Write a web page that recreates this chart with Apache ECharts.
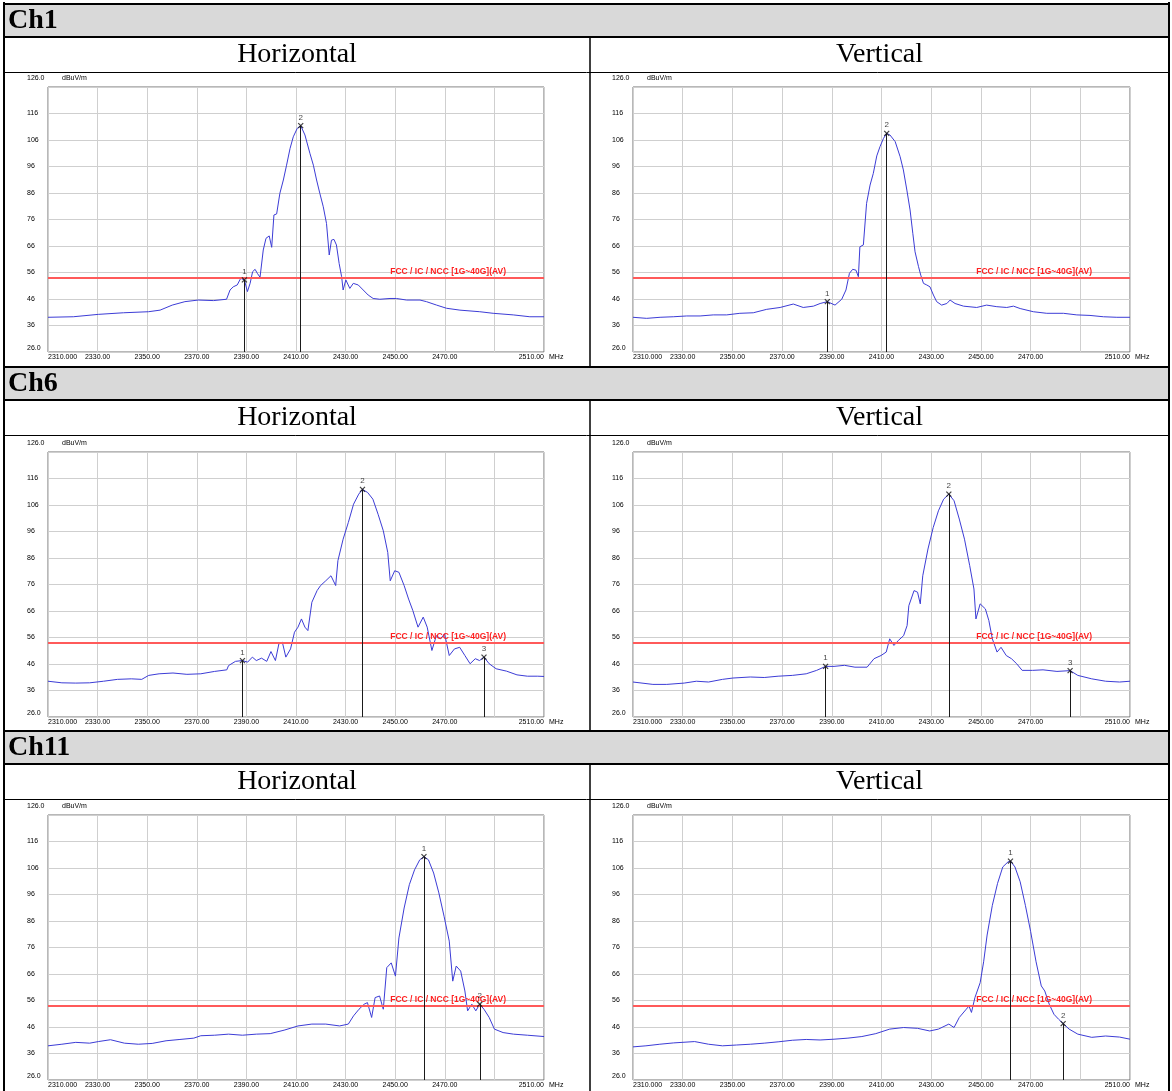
<!DOCTYPE html>
<html>
<head>
<meta charset="utf-8">
<script src="https://cdn.jsdelivr.net/npm/echarts@6/dist/echarts.min.js"></script>
<style>
  html, body { margin: 0; padding: 0; background: #fff; }
  #chart { width: 1172px; height: 1091px; }
</style>
</head>
<body>
<div id="chart"></div>
<script>
// axis ranges / limit
const FREQ_MIN = 2310;
const FREQ_MAX = 2510;
const LEVEL_MIN = 26;
const LEVEL_MAX = 126;
const LIMIT_AV = 54;
const LIMIT_NAME = 'FCC / IC / NCC [1G~40G](AV)';

const xGridValues = [2310, 2330, 2350, 2370, 2390, 2410, 2430, 2450, 2470, 2490, 2510];
const xLabelValues = [2310, 2330, 2350, 2370, 2390, 2410, 2430, 2450, 2470, 2510];
const xLabelTexts = ['2310.000', '2330.00', '2350.00', '2370.00', '2390.00', '2410.00', '2430.00', '2450.00', '2470.00', '2510.00'];
const yGridValues = [26, 36, 46, 56, 66, 76, 86, 96, 106, 116, 126];
const yLabelValues = [26, 36, 46, 56, 66, 76, 86, 96, 106, 116];
const yLabelTexts = ['26.0', '36', '46', '56', '66', '76', '86', '96', '106', '116'];
const yTopText = '126.0';
const levelUnit = 'dBuV/m';
const freqUnit = 'MHz';

const channels = ['Ch1', 'Ch6', 'Ch11'];
const polarizations = ['Horizontal', 'Vertical'];

// traces [MHz, dBuV/m]
const ch1Horizontal = [[2310,39.1],[2320.2,39.3],[2330.3,40.2],[2340.4,40.8],[2350.5,41.2],[2355.2,41.8],[2360.1,43.7],[2365.2,45.0],[2370.6,45.6],[2376.7,45.4],[2382.0,45.9],[2383.4,49.4],[2384.7,50.6],[2386.3,51.3],[2387.7,53.8],[2389.2,53.2],[2390.4,48.8],[2391.5,51.9],[2392.5,56.3],[2393.5,57.2],[2394.4,55.7],[2395.5,54.2],[2396.8,64.5],[2397.9,68.9],[2399.2,69.8],[2400.2,65.5],[2401.1,77.7],[2402.2,78.1],[2403.5,85.9],[2404.9,90.9],[2406.2,96.5],[2407.6,102.8],[2408.9,107.2],[2410.5,110.4],[2411.9,111.4],[2413.6,107.9],[2415.6,101.0],[2417.0,96.5],[2418.3,90.9],[2419.6,85.9],[2421.0,80.8],[2422.3,74.5],[2423.4,62.6],[2424.3,68.2],[2425.3,68.5],[2426.3,66.4],[2427.4,59.4],[2428.4,54.4],[2429.0,49.4],[2430.1,53.2],[2431.7,50.0],[2433.1,51.9],[2435.1,51.3],[2437.1,49.4],[2439.1,47.5],[2441.1,46.2],[2443.8,45.9],[2447.9,46.2],[2450.5,46.2],[2454.6,45.6],[2460.0,45.6],[2462.6,45.0],[2466.7,43.7],[2470.7,42.5],[2476.1,41.8],[2484.1,41.2],[2489.5,40.6],[2497.6,40.0],[2504.3,39.3],[2510,39.3]];
const ch1Vertical = [[2310,39.1],[2315.5,38.7],[2320.9,39.1],[2326.2,39.3],[2331.6,39.6],[2337.0,39.6],[2342.3,40.0],[2347.7,40.0],[2353.0,40.6],[2358.4,40.8],[2363.8,42.1],[2369.2,42.8],[2374.5,44.1],[2378.5,42.8],[2382.6,43.3],[2385.3,44.3],[2388.2,45.0],[2391.3,43.7],[2394.0,45.9],[2395.7,49.4],[2397.1,55.7],[2398.4,57.2],[2399.7,56.9],[2400.7,54.4],[2401.3,65.7],[2402.7,66.4],[2404.0,82.1],[2405.4,89.0],[2406.7,93.4],[2408.1,100.0],[2409.4,103.5],[2410.8,106.6],[2412.1,108.5],[2413.4,107.9],[2415.5,105.4],[2417.5,99.7],[2418.8,94.7],[2420.2,87.1],[2421.5,79.6],[2422.6,70.8],[2423.5,63.8],[2424.9,58.2],[2425.8,55.0],[2426.9,51.9],[2428.2,51.3],[2429.5,50.6],[2430.9,47.5],[2432.2,45.0],[2434.2,43.7],[2436.3,44.3],[2437.6,45.6],[2439.6,44.3],[2443.0,43.3],[2448.3,42.8],[2452.3,43.7],[2456.4,43.1],[2460.4,42.8],[2463.1,43.3],[2465.8,42.4],[2471.1,41.2],[2476.5,40.6],[2483.2,40.6],[2488.6,40.0],[2493.9,39.8],[2499.3,39.3],[2504.7,39.1],[2510,39.1]];
const ch6Horizontal = [[2310,39.5],[2315.6,38.9],[2321.2,38.8],[2326.8,38.9],[2332.4,39.5],[2338.0,40.2],[2343.6,40.4],[2347.8,40.2],[2350.6,41.7],[2354.8,42.3],[2360.4,42.6],[2366.0,42.1],[2371.6,42.3],[2377.2,43.2],[2382.1,43.8],[2382.8,45.4],[2385.6,47.0],[2388.4,47.3],[2390.5,46.7],[2392.4,48.6],[2394.0,47.3],[2396.1,48.2],[2398.2,47.0],[2399.9,50.7],[2401.7,47.3],[2403.1,53.6],[2404.5,54.2],[2405.9,48.6],[2407.8,51.7],[2409.4,58.0],[2410.8,59.9],[2412.2,63.0],[2413.6,59.9],[2414.8,58.6],[2416.4,69.3],[2418.5,73.7],[2419.9,75.6],[2422.0,77.4],[2424.1,79.3],[2426.0,75.6],[2426.9,85.0],[2429.0,93.1],[2431.1,99.4],[2433.2,106.3],[2435.3,110.1],[2436.8,111.9],[2438.9,110.7],[2441.0,108.2],[2443.1,102.5],[2445.2,96.3],[2447.0,88.1],[2448.0,77.4],[2449.8,81.2],[2451.5,80.6],[2453.6,75.6],[2455.4,70.5],[2457.1,66.2],[2459.2,59.9],[2461.3,63.7],[2462.9,59.9],[2464.8,51.1],[2466.6,56.7],[2468.3,55.5],[2469.9,57.4],[2471.8,49.2],[2473.9,51.7],[2476.0,52.3],[2478.1,49.2],[2480.2,46.1],[2482.3,48.0],[2484.0,47.3],[2485.8,48.6],[2487.9,46.1],[2490.7,44.2],[2494.9,43.3],[2499.1,41.9],[2503.3,41.4],[2507.5,41.4],[2510,41.3]];
const ch6Vertical = [[2310,39.2],[2318.0,38.3],[2323.6,38.3],[2330.6,38.8],[2335.5,39.5],[2340.4,39.2],[2346.0,40.2],[2350.2,40.7],[2357.2,41.1],[2362.8,40.9],[2368.4,41.4],[2374.1,41.7],[2379.7,42.3],[2383.9,43.6],[2387.5,45.1],[2390.9,45.1],[2395.1,45.5],[2399.3,44.8],[2404.2,44.8],[2407.0,48.0],[2409.8,49.2],[2411.9,50.5],[2413.3,55.5],[2415.0,53.0],[2416.8,54.9],[2418.9,56.7],[2420.3,60.5],[2421.0,68.0],[2423.1,73.7],[2424.5,73.1],[2425.6,68.7],[2426.6,79.3],[2428.7,89.4],[2430.8,97.5],[2432.9,103.8],[2435.0,108.2],[2437.1,110.1],[2439.2,107.6],[2441.3,100.7],[2443.4,93.1],[2445.5,83.1],[2447.2,74.3],[2448.0,63.0],[2449.7,68.7],[2451.8,66.8],[2453.2,62.4],[2454.6,55.5],[2456.5,50.5],[2458.1,52.3],[2460.2,49.2],[2462.3,48.0],[2464.4,46.1],[2466.6,43.6],[2470.8,43.6],[2475.0,43.8],[2480.6,43.2],[2485.9,43.5],[2489.0,41.7],[2494.6,40.4],[2500.2,39.5],[2505.8,39.2],[2510,39.5]];
const ch11Horizontal = [[2310,38.9],[2315.6,39.5],[2321.2,40.2],[2326.8,39.9],[2330.3,40.5],[2335.2,41.2],[2340.8,39.9],[2346.4,39.5],[2352.0,39.8],[2357.6,40.8],[2363.2,41.3],[2368.8,41.8],[2371.6,42.7],[2377.2,42.9],[2382.8,43.3],[2388.4,42.9],[2394.0,43.3],[2399.6,43.5],[2405.2,44.8],[2410.8,46.4],[2416.4,47.1],[2422.0,47.1],[2427.6,46.4],[2431.1,47.1],[2433.2,50.2],[2435.4,52.7],[2437.5,54.6],[2438.8,55.2],[2440.5,49.6],[2441.9,57.1],[2443.7,57.7],[2445.2,52.7],[2446.6,68.4],[2448.4,70.2],[2450.1,65.2],[2451.5,79.6],[2453.6,90.9],[2455.7,99.7],[2457.8,105.3],[2459.9,109.1],[2461.6,110.3],[2463.4,109.1],[2465.5,104.1],[2467.6,96.6],[2469.7,87.8],[2471.8,78.4],[2473.2,63.3],[2474.6,69.0],[2476.4,67.1],[2478.1,59.6],[2479.2,52.1],[2480.9,54.6],[2482.5,52.1],[2484.1,54.6],[2485.8,52.7],[2487.9,49.6],[2490.0,45.2],[2493.5,43.9],[2497.7,43.3],[2503.3,42.9],[2510,42.4]];
const ch11Vertical = [[2310,38.5],[2315.2,38.9],[2320.8,39.5],[2326.4,40.0],[2334.8,40.5],[2340.4,39.5],[2346.0,38.9],[2351.6,39.2],[2357.2,39.5],[2362.8,39.9],[2368.4,40.4],[2374.1,41.0],[2379.7,41.3],[2385.3,41.1],[2390.9,41.4],[2396.5,41.8],[2402.1,42.4],[2407.7,43.5],[2413.3,45.2],[2418.9,45.8],[2424.5,45.5],[2429.4,44.5],[2432.9,45.2],[2437.1,47.1],[2439.2,45.8],[2441.3,49.6],[2444.1,52.7],[2445.2,53.9],[2446.2,51.5],[2447.6,57.1],[2449.7,62.7],[2451.1,70.6],[2452.5,80.7],[2454.6,91.9],[2456.7,100.2],[2458.8,106.4],[2460.9,108.3],[2461.9,108.6],[2463.7,106.4],[2465.8,100.8],[2467.9,91.9],[2470.0,82.1],[2472.2,70.6],[2474.3,61.5],[2475.7,59.6],[2477.5,54.6],[2479.4,50.8],[2481.3,48.9],[2483.1,47.3],[2485.5,45.2],[2489.0,43.3],[2494.6,42.1],[2500.2,42.6],[2505.8,42.2],[2510,41.4]];

// markers [MHz, dBuV/m, number]
const ch1HorizontalMarkers = [[2389.2, 53.2, '1'], [2411.9, 111.4, '2']];
const ch1VerticalMarkers = [[2388.2, 45.0, '1'], [2412.1, 108.5, '2']];
const ch6HorizontalMarkers = [[2388.4, 47.3, '1'], [2436.8, 111.9, '2'], [2485.8, 48.6, '3']];
const ch6VerticalMarkers = [[2387.5, 45.1, '1'], [2437.1, 110.1, '2'], [2485.9, 43.5, '3']];
const ch11HorizontalMarkers = [[2461.6, 110.3, '1'], [2484.1, 54.6, '2']];
const ch11VerticalMarkers = [[2461.9, 108.6, '1'], [2483.1, 47.3, '2']];

const panels = [
  { trace: ch1Horizontal, markers: ch1HorizontalMarkers },
  { trace: ch1Vertical, markers: ch1VerticalMarkers },
  { trace: ch6Horizontal, markers: ch6HorizontalMarkers },
  { trace: ch6Vertical, markers: ch6VerticalMarkers },
  { trace: ch11Horizontal, markers: ch11HorizontalMarkers },
  { trace: ch11Vertical, markers: ch11VerticalMarkers },
];

// page layout (table of the report)
const PLOT_LEFT = [48, 633];
const PLOT_WIDTH = [496, 497];
const PLOT_TOP = [87, 452, 815];
const PLOT_HEIGHT = 265;
const HEADER_TOP = [4, 367, 731];
const HEADER_H = 33;
const COL_SPLIT = 590;
const TABLE_L = 4;
const TABLE_R = 1169;

const TRACE_COLOR = '#3c3cd6';
const GRID_COLOR = '#cfcfcf';
const TICK_COLOR = '#000';
const TICK_FONT = '"Liberation Sans", Arial, sans-serif';
const SERIF = '"Liberation Serif", "Times New Roman", serif';

const chart = echarts.init(document.getElementById('chart'));

const grid = [];
const xAxis = [];
const yAxis = [];
const series = [];

panels.forEach((p, i) => {
  const row = Math.floor(i / 2);
  const col = i % 2;

  grid.push({
    left: PLOT_LEFT[col],
    top: PLOT_TOP[row],
    width: PLOT_WIDTH[col],
    height: PLOT_HEIGHT,
    show: true,
    backgroundColor: '#fff',
    borderColor: '#707070',
    borderWidth: 1,
  });

  xAxis.push({
    gridIndex: i,
    type: 'value',
    min: FREQ_MIN,
    max: FREQ_MAX,
    axisLine: { show: false },
    axisTick: { show: false, customValues: xGridValues },
    splitLine: { show: true, lineStyle: { color: GRID_COLOR, width: 1 } },
    axisLabel: {
      customValues: xLabelValues,
      formatter: (v) => xLabelTexts[xLabelValues.indexOf(v)] || '',
      margin: 2,
      fontSize: 7,
      fontFamily: TICK_FONT,
      color: TICK_COLOR,
      alignMinLabel: 'left',
      alignMaxLabel: 'right',
    },
    name: freqUnit,
    nameLocation: 'end',
    nameGap: 5,
    nameTextStyle: { fontSize: 7, fontFamily: TICK_FONT, color: TICK_COLOR, align: 'left', verticalAlign: 'top', padding: [2, 0, 0, 0] },
  });

  yAxis.push({
    gridIndex: i,
    type: 'value',
    min: LEVEL_MIN,
    max: LEVEL_MAX,
    axisLine: { show: false },
    axisTick: { show: false, customValues: yGridValues },
    splitLine: { show: true, lineStyle: { color: GRID_COLOR, width: 1 } },
    axisLabel: {
      customValues: yLabelValues,
      formatter: (v) => yLabelTexts[yLabelValues.indexOf(v)] || '',
      align: 'left',
      margin: 21,
      fontSize: 7,
      fontFamily: TICK_FONT,
      color: TICK_COLOR,
      verticalAlignMinLabel: 'bottom',
    },
    name: '{v|' + yTopText + '}{u|' + levelUnit + '}',
    nameLocation: 'end',
    nameGap: 5,
    nameTextStyle: {
      align: 'left',
      padding: [0, 0, 0, -21],
      rich: {
        v: { width: 35, fontSize: 7, fontFamily: TICK_FONT, color: TICK_COLOR },
        u: { fontSize: 7, fontFamily: TICK_FONT, color: TICK_COLOR },
      },
    },
  });

  const markerLines = p.markers.map((m) => [
    { coord: [m[0], m[1]], lineStyle: { color: '#1a1a1a', width: 1, type: 'solid' }, label: { show: false } },
    { coord: [m[0], LEVEL_MIN], lineStyle: { color: '#1a1a1a', width: 1, type: 'solid' }, label: { show: false } },
  ]);

  series.push({
    type: 'line',
    xAxisIndex: i,
    yAxisIndex: i,
    data: p.trace,
    symbol: 'none',
    smooth: false,
    silent: true,
    z: 3,
    lineStyle: { color: TRACE_COLOR, width: 1 },
    markLine: {
      silent: true,
      symbol: 'none',
      animation: false,
      label: { show: false },
      data: [
        {
          yAxis: LIMIT_AV,
          lineStyle: { color: '#ff5a5a', width: 2, type: 'solid' },
          label: {
            show: true,
            position: 'insideEndTop',
            formatter: LIMIT_NAME,
            color: '#ff1f1f',
            fontSize: 8.5,
            fontWeight: 'bold',
            fontFamily: TICK_FONT,
            padding: [0, 36, 0, 0],
            distance: 2,
          },
        },
        ...markerLines,
      ],
    },
  });

  // marker "x" and its number
  series.push({
    type: 'scatter',
    xAxisIndex: i,
    yAxisIndex: i,
    data: p.markers.map((m) => ({ value: [m[0], m[1]], name: m[2] })),
    symbol: 'path://M0,0L10,10M10,0L0,10',
    symbolSize: 5,
    silent: true,
    z: 5,
    itemStyle: { color: 'rgba(0,0,0,0)', borderColor: '#111', borderWidth: 1.2 },
    label: { show: true, position: 'top', distance: 1, formatter: '{b}', fontSize: 8, fontFamily: TICK_FONT, color: '#111' },
  });
});

// table frame, headers and captions
const graphic = [];
const rule = (x1, y1, x2, y2, w) => graphic.push({
  type: 'line', silent: true, z: 10,
  shape: { x1, y1, x2, y2 },
  style: { stroke: '#000', lineWidth: w },
});

HEADER_TOP.forEach((top, r) => {
  graphic.push({
    type: 'rect', silent: true, z: 1,
    shape: { x: TABLE_L, y: top, width: TABLE_R - TABLE_L, height: HEADER_H },
    style: { fill: '#d9d9d9' },
  });
  graphic.push({
    type: 'text', silent: true, z: 11,
    style: { text: channels[r], x: 8, y: top + 17, font: 'bold 28px ' + SERIF, fill: '#000', align: 'left', verticalAlign: 'middle' },
  });
  const capY = top + HEADER_H + 18;
  graphic.push({
    type: 'text', silent: true, z: 11,
    style: { text: polarizations[0], x: (TABLE_L + COL_SPLIT) / 2, y: capY, font: '28px ' + SERIF, fill: '#000', align: 'center', verticalAlign: 'middle' },
  });
  graphic.push({
    type: 'text', silent: true, z: 11,
    style: { text: polarizations[1], x: (COL_SPLIT + TABLE_R) / 2, y: capY, font: '28px ' + SERIF, fill: '#000', align: 'center', verticalAlign: 'middle' },
  });
  rule(TABLE_L, top, TABLE_R, top, 2);
  rule(TABLE_L, top + HEADER_H, TABLE_R, top + HEADER_H, 2);
  rule(TABLE_L, top + HEADER_H + 35.5, TABLE_R, top + HEADER_H + 35.5, 1);
  const colEnd = r < 2 ? HEADER_TOP[r + 1] : 1091;
  rule(COL_SPLIT, top + HEADER_H, COL_SPLIT, colEnd, 1.5);
});
rule(TABLE_L, 2, TABLE_L, 1091, 2);
rule(TABLE_R, 2, TABLE_R, 1091, 2);

chart.setOption({
  animation: false,
  backgroundColor: '#fff',
  grid,
  xAxis,
  yAxis,
  series,
  graphic,
});
</script>
</body>
</html>
